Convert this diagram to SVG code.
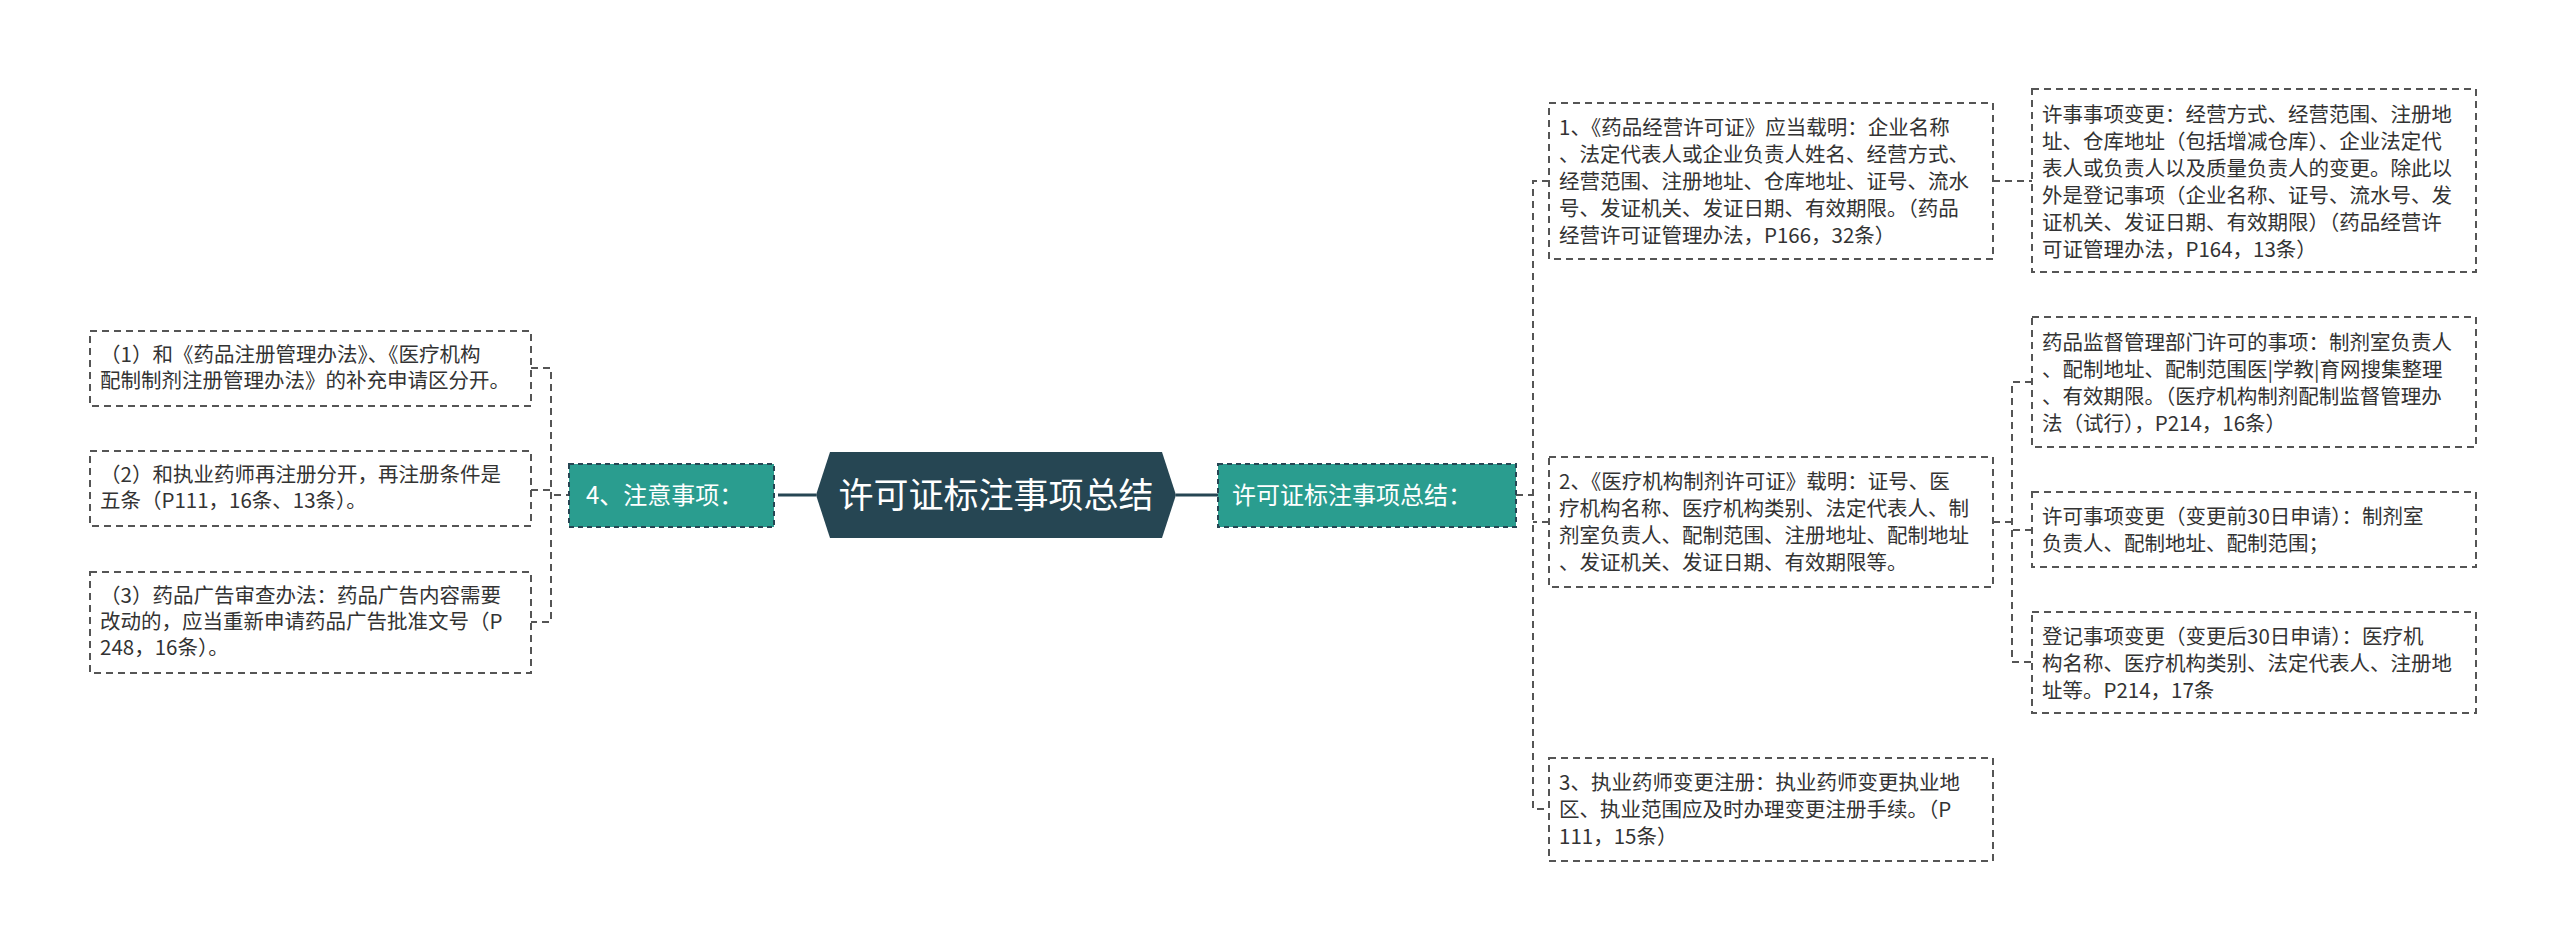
<svg xmlns="http://www.w3.org/2000/svg" width="2560" height="951" viewBox="0 0 2560 951">
<style>
.b{fill:#fff;stroke:#555;stroke-width:2;stroke-dasharray:7 5}
.t{font-family:"Noto Sans CJK SC","Liberation Sans",sans-serif;font-size:20.5px;fill:#333}
.g{fill:#2a9d8f;stroke:#264653;stroke-width:2;stroke-dasharray:5 4}
.w{font-family:"Noto Sans CJK SC","Liberation Sans",sans-serif;fill:#fff}
.c{fill:none;stroke:#555;stroke-width:2;stroke-dasharray:7 5}
</style>
<rect width="2560" height="951" fill="#fff"/>
<g id="connectors">
<line x1="778" y1="495" x2="816" y2="495" stroke="#264653" stroke-width="3"/>
<line x1="1176" y1="495" x2="1218" y2="495" stroke="#264653" stroke-width="3"/>
<path class="c" d="M573 495H551M531 368H551V622H531M531 490H551"/>
<path class="c" d="M1516 495H1533M1549 181H1533V809H1549M1549 522H1533"/>
<path class="c" d="M1993 181H2032"/>
<path class="c" d="M1993 522H2012M2032 382H2012V662H2032M2032 530H2012"/>
</g>
<g id="root">
<polygon points="816,495 830,452 1162,452 1176,495 1162,538 830,538" fill="#264653"/>
<text class="w" x="996" y="508" font-size="35" text-anchor="middle">许可证标注事项总结</text>
</g>
<g id="n4">
<rect class="g" x="569" y="464" width="205" height="63"/>
<text class="w" x="586" y="504" font-size="24">4、注意事项：</text>
</g>
<g id="nR">
<rect class="g" x="1218" y="464" width="298" height="63"/>
<text class="w" x="1232" y="504" font-size="24">许可证标注事项总结：</text>
</g>
<g id="L1"><rect class="b" x="90" y="331" width="441" height="75"/>
<text class="t" x="100" y="362">（1）和《药品注册管理办法》、《医疗机构</text><text class="t" x="100" y="388">配制制剂注册管理办法》的补充申请区分开。</text></g>
<g id="L2"><rect class="b" x="90" y="451" width="441" height="75"/>
<text class="t" x="100" y="482">（2）和执业药师再注册分开，再注册条件是</text><text class="t" x="100" y="508">五条（P111，16条、13条）。</text></g>
<g id="L3"><rect class="b" x="90" y="572" width="441" height="101"/>
<text class="t" x="100" y="603">（3）药品广告审查办法：药品广告内容需要</text><text class="t" x="100" y="629">改动的，应当重新申请药品广告批准文号（P</text><text class="t" x="100" y="655">248，16条）。</text></g>
<g id="R1"><rect class="b" x="1549" y="103" width="444" height="156"/>
<text class="t" x="1559" y="135">1、《药品经营许可证》应当载明：企业名称</text><text class="t" x="1559" y="162">、法定代表人或企业负责人姓名、经营方式、</text><text class="t" x="1559" y="189">经营范围、注册地址、仓库地址、证号、流水</text><text class="t" x="1559" y="216">号、发证机关、发证日期、有效期限。（药品</text><text class="t" x="1559" y="243">经营许可证管理办法，P166，32条）</text></g>
<g id="R2"><rect class="b" x="1549" y="457" width="444" height="130"/>
<text class="t" x="1559" y="489">2、《医疗机构制剂许可证》载明：证号、医</text><text class="t" x="1559" y="516">疗机构名称、医疗机构类别、法定代表人、制</text><text class="t" x="1559" y="543">剂室负责人、配制范围、注册地址、配制地址</text><text class="t" x="1559" y="570">、发证机关、发证日期、有效期限等。</text></g>
<g id="R3"><rect class="b" x="1549" y="758" width="444" height="103"/>
<text class="t" x="1559" y="790">3、执业药师变更注册：执业药师变更执业地</text><text class="t" x="1559" y="817">区、执业范围应及时办理变更注册手续。（P</text><text class="t" x="1559" y="844">111，15条）</text></g>
<g id="S1"><rect class="b" x="2032" y="89" width="444" height="183"/>
<text class="t" x="2042" y="122">许事事项变更：经营方式、经营范围、注册地</text><text class="t" x="2042" y="149">址、仓库地址（包括增减仓库）、企业法定代</text><text class="t" x="2042" y="176">表人或负责人以及质量负责人的变更。除此以</text><text class="t" x="2042" y="203">外是登记事项（企业名称、证号、流水号、发</text><text class="t" x="2042" y="230">证机关、发证日期、有效期限）（药品经营许</text><text class="t" x="2042" y="257">可证管理办法，P164，13条）</text></g>
<g id="S2"><rect class="b" x="2032" y="317" width="444" height="130"/>
<text class="t" x="2042" y="350">药品监督管理部门许可的事项：制剂室负责人</text><text class="t" x="2042" y="377">、配制地址、配制范围医|学教|育网搜集整理</text><text class="t" x="2042" y="404">、有效期限。（医疗机构制剂配制监督管理办</text><text class="t" x="2042" y="431">法（试行），P214，16条）</text></g>
<g id="S3"><rect class="b" x="2032" y="492" width="444" height="75"/>
<text class="t" x="2042" y="524">许可事项变更（变更前30日申请）：制剂室</text><text class="t" x="2042" y="551">负责人、配制地址、配制范围；</text></g>
<g id="S4"><rect class="b" x="2032" y="612" width="444" height="101"/>
<text class="t" x="2042" y="644">登记事项变更（变更后30日申请）：医疗机</text><text class="t" x="2042" y="671">构名称、医疗机构类别、法定代表人、注册地</text><text class="t" x="2042" y="698">址等。P214，17条</text></g>
</svg>
